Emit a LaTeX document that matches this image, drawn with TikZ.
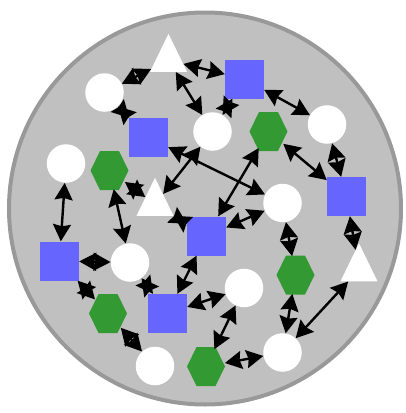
\documentclass[tikz,border=0pt]{standalone}
\usetikzlibrary{shapes.geometric,arrows.meta}
\definecolor{bgfill}{HTML}{C0C0C0}
\definecolor{bgedge}{HTML}{999999}
\definecolor{sqcol}{HTML}{6666FF}
\definecolor{hexcol}{HTML}{339933}
\tikzset{
  circnode/.style={circle,fill=white,minimum size=38.5pt,inner sep=0pt},
  sqnode/.style={rectangle,fill=sqcol,minimum size=39pt,inner sep=0pt},
  trinode/.style={isosceles triangle,isosceles triangle stretches,shape border rotate=90,fill=white,minimum width=37pt,minimum height=38pt,inner sep=0pt,anchor=lower side},
  hexanchor/.style={circle,minimum size=38pt,inner sep=0pt},
  link/.style={line width=2.4pt,>={Stealth[length=17pt,width=18pt,inset=2pt]},<->}
}
\newcommand\myhex[2]{%
  \fill[hexcol] (#1) ++(-19,0) -- ++(9.5,19.5) -- ++(19,0) -- ++(9.5,-19.5) -- ++(-9.5,-19.5) -- ++(-19,0) -- cycle;
  \node[hexanchor] (#2) at (#1) {};}
\begin{document}
\begin{tikzpicture}[x=1pt,y=1pt]
\useasboundingbox (0,0) rectangle (405,-413);
\draw[fill=bgfill,draw=bgedge,line width=4pt] (205,-208.5) circle (196);
% nodes
\node[trinode] (t1) at (168.5,-72) {};
\node[sqnode] (s1) at (244.5,-79) {};
\node[circnode] (c1) at (104.5,-92.5) {};
\node[sqnode] (s2) at (148.5,-137.5) {};
\node[circnode] (c2) at (212.5,-131.5) {};
\myhex{268.5,-131.5}{h1}
\node[circnode] (c3) at (327,-124.5) {};
\node[circnode] (c4) at (66,-163.5) {};
\myhex{109.5,-170.5}{h2}
\node[trinode] (t2) at (155,-216) {};
\node[circnode] (c5) at (282.5,-203) {};
\node[sqnode] (s3) at (346.5,-196.5) {};
\node[sqnode] (s4) at (206.5,-236) {};
\node[sqnode] (s5) at (59.5,-261) {};
\node[circnode] (c6) at (130,-262.5) {};
\myhex{295.5,-275}{h3}
\node[trinode] (t3) at (359,-281.5) {};
\node[circnode] (c7) at (244,-288) {};
\myhex{108,-313.5}{h4}
\node[sqnode] (s6) at (167.5,-313.5) {};
\node[circnode] (c8) at (155,-366) {};
\myhex{206,-366.5}{h5}
\node[circnode] (c9) at (282.5,-352.5) {};
% connectors
\draw[link] (t1) -- (c1);
\draw[link] (t1) -- (s1);
\draw[link] (t1) -- (c2);
\draw[link] (c1) -- (s2);
\draw[link] (s1) -- (c2);
\draw[link] (s1) -- (c3);
\draw[link] (c3) -- (s3);
\draw[link] (h1) -- (s3);
\draw[link] (h1) -- (s4);
\draw[link] (s2) -- (c5);
\draw[link] (c2) -- (t2);
\draw[link] (h2) -- (t2);
\draw[link] (c4) -- (s5);
\draw[link] (h2) -- (c6);
\draw[link] (t2) -- (s4);
\draw[link] (s4) -- (c5);
\draw[link] (c5) -- (h3);
\draw[link] (s3) -- (t3);
\draw[link] (s5) -- (c6);
\draw[link] (s5) -- (h4);
\draw[link] (c6) -- (s6);
\draw[link] (s4) -- (s6);
\draw[link] (s6) -- (c7);
\draw[link] (c7) -- (h5);
\draw[link] (h3) -- (c9);
\draw[link] (t3) -- (c9);
\draw[link] (h5) -- (c9);
\draw[link] (h4) -- (c8);
\end{tikzpicture}
\end{document}
